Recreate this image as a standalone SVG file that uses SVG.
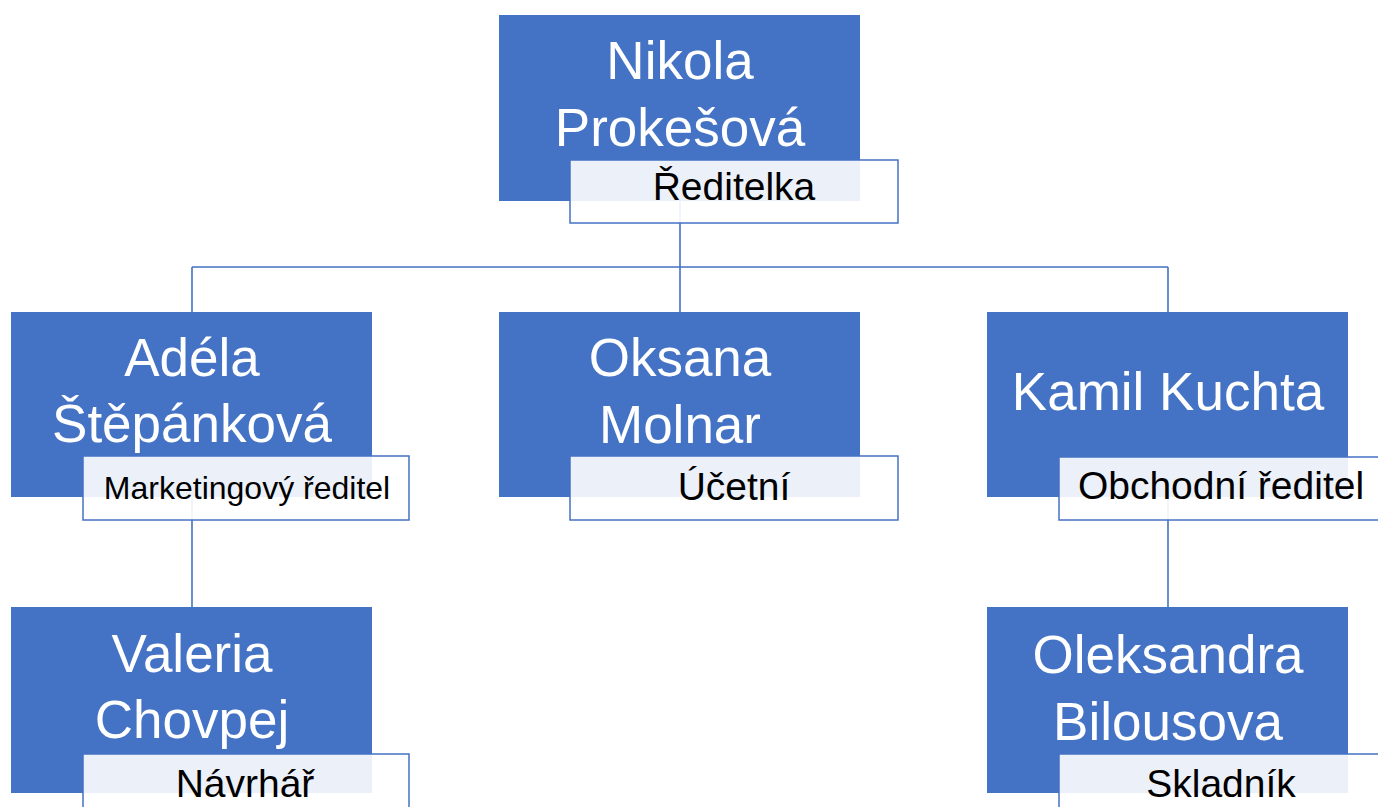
<svg xmlns="http://www.w3.org/2000/svg" width="1378" height="807" viewBox="0 0 1378 807">
<style>
.box{fill:#4472c4;}
.lbl{fill:#ffffff;fill-opacity:0.9;stroke:#4472c4;stroke-width:1.5;}
.name{font-family:"Liberation Sans",Arial,sans-serif;font-size:53px;fill:#ffffff;text-anchor:middle;}
.role{font-family:"Liberation Sans",Arial,sans-serif;font-size:39px;fill:#000000;text-anchor:middle;}
.conn{fill:none;stroke:#4472c4;stroke-width:1.6;}
</style>
<rect width="1378" height="807" fill="#ffffff"/>
<g id="connectors">
<path class="conn" d="M680,201 V267 M192,267 H1168 M192,267 V312 M680,267 V312 M1168,267 V312"/>
<path class="conn" d="M192,497 V607"/>
<path class="conn" d="M1168,497 V607"/>
</g>
<g id="node-nikola">
<rect class="box" x="499" y="15" width="361" height="186"/>
<text class="name" x="680" y="79">Nikola</text>
<text class="name" x="680" y="146">Prokešová</text>
<rect class="lbl" x="570" y="160" width="328" height="63"/>
<text class="role" x="734" y="200">Ředitelka</text>
</g>
<g id="node-adela">
<rect class="box" x="11" y="312" width="361" height="185"/>
<text class="name" x="192" y="376">Adéla</text>
<text class="name" x="192" y="442">Štěpánková</text>
<rect class="lbl" x="83" y="456" width="326" height="64"/>
<text class="role" x="247" y="499" style="font-size:32px">Marketingový ředitel</text>
</g>
<g id="node-oksana">
<rect class="box" x="499" y="312" width="361" height="185"/>
<text class="name" x="680" y="376">Oksana</text>
<text class="name" x="680" y="443">Molnar</text>
<rect class="lbl" x="570" y="456" width="328" height="64"/>
<text class="role" x="734" y="500">Účetní</text>
</g>
<g id="node-kamil">
<rect class="box" x="987" y="312" width="361" height="185"/>
<text class="name" x="1168" y="410">Kamil Kuchta</text>
<rect class="lbl" x="1059" y="457" width="328" height="63"/>
<text class="role" x="1221" y="499">Obchodní ředitel</text>
</g>
<g id="node-valeria">
<rect class="box" x="11" y="607" width="361" height="186"/>
<text class="name" x="192" y="672">Valeria</text>
<text class="name" x="192" y="738">Chovpej</text>
<rect class="lbl" x="83" y="754" width="326" height="64"/>
<text class="role" x="245" y="797">Návrhář</text>
</g>
<g id="node-oleksandra">
<rect class="box" x="987" y="607" width="361" height="186"/>
<text class="name" x="1168" y="673">Oleksandra</text>
<text class="name" x="1168" y="740">Bilousova</text>
<rect class="lbl" x="1059" y="754" width="328" height="64"/>
<text class="role" x="1221" y="797">Skladník</text>
</g>
</svg>
